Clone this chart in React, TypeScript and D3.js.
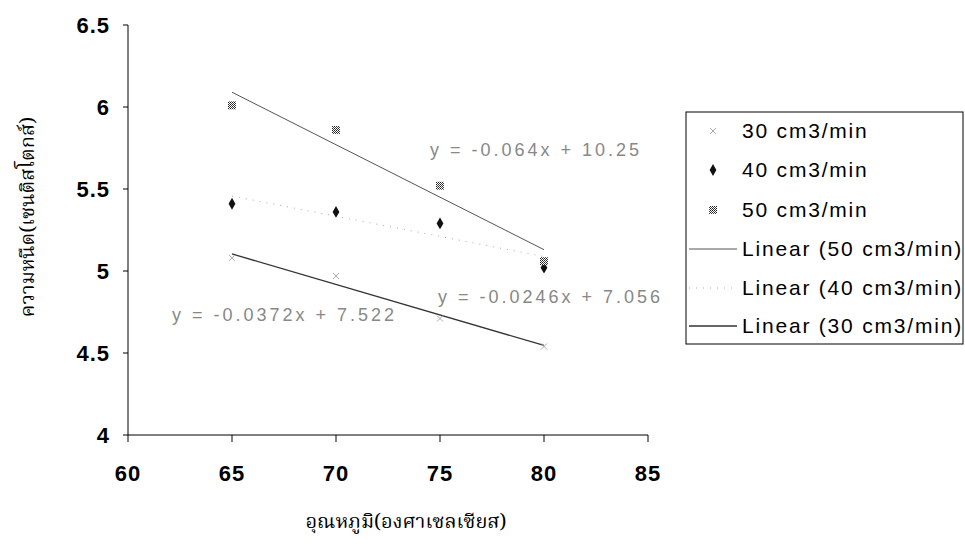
import * as d3 from 'd3';

// flow-rate series (viscosity, cSt) against temperature (°C)
const temps = [65, 70, 75, 80];
const visc30 = [5.08, 4.97, 4.71, 4.54];
const visc40 = [5.41, 5.36, 5.29, 5.02];
const visc50 = [6.01, 5.86, 5.52, 5.06];

// trendline slope / intercept as printed on the chart
const trend30 = [-0.0372, 7.522];
const trend40 = [-0.0246, 7.056];
const trend50 = [-0.064, 10.25];

const eqLabels = ['y = -0.0372x + 7.522', 'y = -0.0246x + 7.056', 'y = -0.064x + 10.25'];
const legendLabels = ['30 cm3/min', '40 cm3/min', '50 cm3/min', 'Linear (50 cm3/min)', 'Linear (40 cm3/min)', 'Linear (30 cm3/min)'];
const xTicks = [60, 65, 70, 75, 80, 85];
const yTicks = [4, 4.5, 5, 5.5, 6, 6.5];

const xTitle = 'อุณหภูมิ(องศาเซลเซียส)';
const yTitle = 'ความหนืด(เซนติสโตกส์)';

const W = 965;
const H = 552;
const numFont = '"Liberation Sans", Arial, sans-serif';
const thaiFont = '"Noto Serif Thai", "Noto Sans Thai", "Tlwg Typo", serif';

const Marker = ({ kind, x, y }: { kind: number; x: number; y: number }) => {
  if (kind === 0) {
    return (
      <g stroke="#aaa" strokeWidth={1}>
        <line x1={x - 3} y1={y - 3} x2={x + 3} y2={y + 3} />
        <line x1={x - 3} y1={y + 3} x2={x + 3} y2={y - 3} />
      </g>
    );
  }
  if (kind === 1) {
    return <path d={d3.symbol(d3.symbolDiamond, 40)()!} transform={`translate(${x},${y})`} fill="#111" />;
  }
  return <rect x={x - 4} y={y - 4} width={8} height={8} fill="url(#hatch)" />;
};

export default function App() {
  const x = d3.scaleLinear().domain([60, 85]).range([128, 648]);
  const y = d3.scaleLinear().domain([4, 6.5]).range([435, 25]);

  const series = [visc30, visc40, visc50];
  const trends = [trend30, trend40, trend50];
  const trendStyle = [
    { stroke: '#333', width: 1.3, dash: undefined },
    { stroke: '#aaa', width: 1, dash: '1 6' },
    { stroke: '#555', width: 1, dash: undefined },
  ];
  // equation label anchor (left edge, baseline)
  const eqPos = [
    [172, 321],
    [438, 303],
    [430, 156],
  ];

  const legendRows = [131, 170, 210, 249, 288, 326];
  const legendOrder = [2, 1, 0];

  return (
    <svg width={W} height={H} style={{ position: 'absolute', left: 0, top: 0, background: '#fff' }}>
      <defs>
        <pattern id="hatch" width={2} height={2} patternUnits="userSpaceOnUse">
          <rect width={2} height={2} fill="#fff" />
          <rect width={1} height={1} fill="#222" />
          <rect x={1} y={1} width={1} height={1} fill="#444" />
        </pattern>
      </defs>

      {/* axes */}
      <line x1={x(60)} y1={y(4)} x2={x(85)} y2={y(4)} stroke="#000" />
      <line x1={x(60)} y1={y(4)} x2={x(60)} y2={y(6.5)} stroke="#000" />
      {xTicks.map((t) => (
        <g key={'xt' + t}>
          <line x1={x(t)} x2={x(t)} y1={y(4)} y2={y(4) + 7} stroke="#000" />
          <text x={x(t)} y={481} textAnchor="middle" fontFamily={numFont} fontSize={22} fontWeight="bold" letterSpacing={1}>
            {t}
          </text>
        </g>
      ))}
      {yTicks.map((t) => (
        <g key={'yt' + t}>
          <line x1={x(60) - 5} x2={x(60)} y1={y(t)} y2={y(t)} stroke="#000" />
          <text x={110} y={y(t) + 8} textAnchor="end" fontFamily={numFont} fontSize={22} fontWeight="bold" letterSpacing={1}>
            {t}
          </text>
        </g>
      ))}

      {/* trendlines */}
      {trends.map(([m, b], i) => {
        const pts: [number, number][] = [temps[0], temps[temps.length - 1]].map((t) => [x(t), y(m * t + b)]);
        return (
          <path
            key={'tr' + i}
            d={d3.line()(pts)!}
            fill="none"
            stroke={trendStyle[i].stroke}
            strokeWidth={trendStyle[i].width}
            strokeDasharray={trendStyle[i].dash}
          />
        );
      })}

      {/* points */}
      {series.map((vals, s) =>
        vals.map((v, i) => <Marker key={`p${s}-${i}`} kind={s} x={x(temps[i])} y={y(v)} />)
      )}

      {/* equations */}
      {eqLabels.map((lab, i) => (
        <text
          key={'eq' + i}
          x={eqPos[i][0]}
          y={eqPos[i][1]}
          fontFamily={numFont}
          fontSize={18}
          letterSpacing={3}
          fill="#888"
        >
          {lab}
        </text>
      ))}

      {/* axis titles */}
      <text x={406} y={528} textAnchor="middle" fontFamily={thaiFont} fontSize={20}>
        {xTitle}
      </text>
      <text transform="translate(34,217) rotate(-90)" textAnchor="middle" fontFamily={thaiFont} fontSize={20}>
        {yTitle}
      </text>

      {/* legend */}
      <rect x={686} y={112} width={277} height={232} fill="#fff" stroke="#000" />
      {legendLabels.map((lab, i) => {
        const cy = legendRows[i];
        let sample;
        if (i < 3) {
          sample = <Marker kind={i} x={713} y={cy} />;
        } else {
          const st = trendStyle[legendOrder[i - 3]];
          sample = (
            <line
              x1={689}
              x2={737}
              y1={cy}
              y2={cy}
              stroke={st.stroke}
              strokeWidth={st.width}
              strokeDasharray={st.dash}
            />
          );
        }
        return (
          <g key={'lg' + i}>
            {sample}
            <text x={742} y={cy + 7} fontFamily={numFont} fontSize={21} letterSpacing={1.8}>
              {lab}
            </text>
          </g>
        );
      })}
    </svg>
  );
}
